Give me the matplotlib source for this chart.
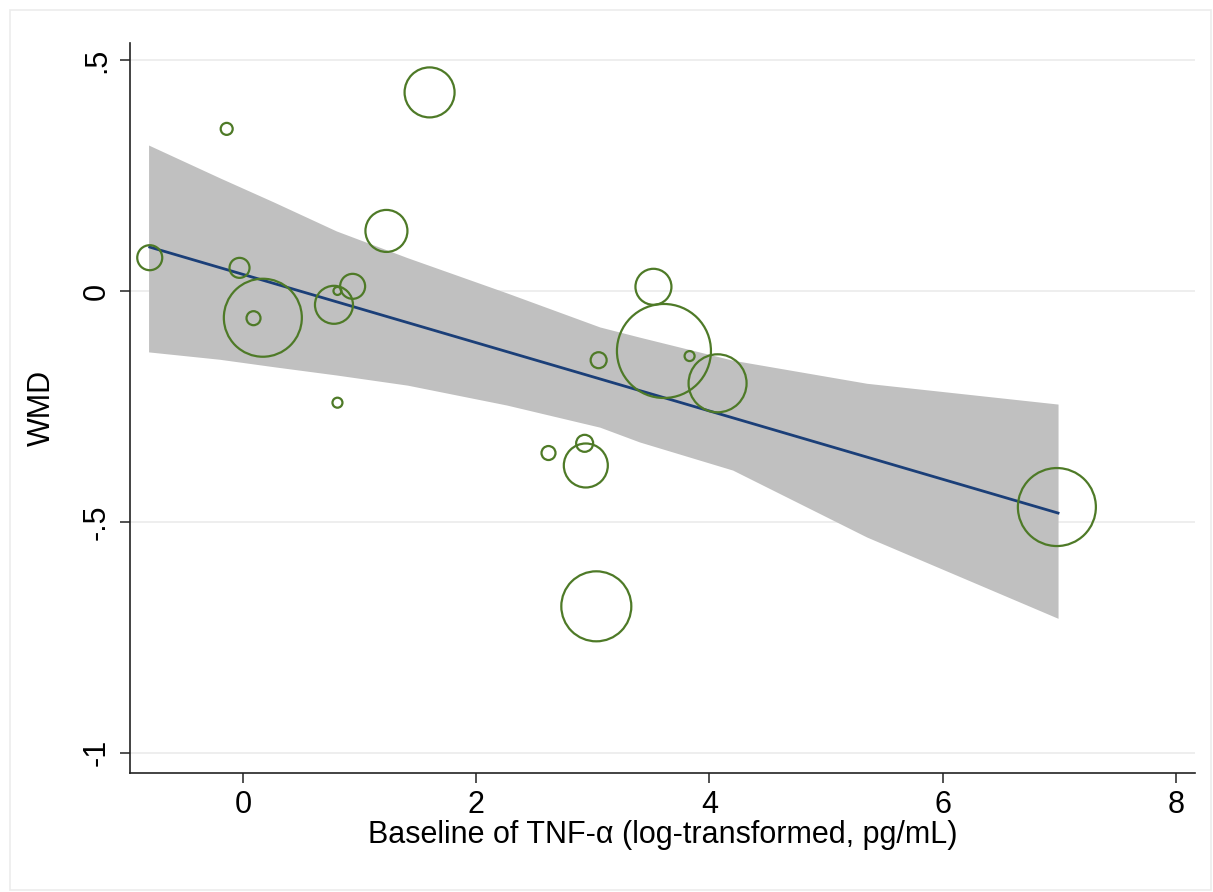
import matplotlib
matplotlib.use('Agg')
import matplotlib.pyplot as plt
from matplotlib.patches import Rectangle

plt.rcParams['font.family'] = ['Liberation Sans', 'DejaVu Sans']

# studies: baseline TNF-a (log) vs WMD, bubble radius in px (study weight)
tnf_x = [-0.80, -0.14, -0.03, 0.17, 0.09, 0.78, 0.81, 0.94, 1.23, 1.60, 0.81,
         2.62, 2.93, 2.94, 3.05, 3.52, 3.61, 3.83, 4.07, 3.03, 6.98]
wmd_y = [0.072, 0.351, 0.050, -0.058, -0.059, -0.030, 0.000, 0.010, 0.130, 0.430, -0.242,
         -0.351, -0.330, -0.378, -0.150, 0.009, -0.130, -0.141, -0.200, -0.683, -0.468]
bubble_r = [12.5, 6, 10, 39, 7, 19, 4, 12.5, 21, 25, 5,
            7, 8.5, 22, 8, 18, 47, 5, 29, 35, 39]

# fitted line and 95% CI band
fit_x = [-0.80, 6.99]
fit_y = [0.095, -0.481]
ci_x = [-0.81, -0.20, 0.26, 0.80, 1.41, 2.26, 3.06, 3.40, 4.20, 5.35, 6.99]
ci_hi = [0.316, 0.245, 0.193, 0.130, 0.072, -0.004, -0.078, -0.100, -0.150, -0.200, -0.245]
ci_lo = [-0.132, -0.148, -0.164, -0.182, -0.204, -0.247, -0.295, -0.327, -0.388, -0.533, -0.709]

xticks = [0, 2, 4, 6, 8]
yticks = [-1, -0.5, 0, 0.5]
ytick_labels = ['-1', '-.5', '0', '.5']

fig = plt.figure(figsize=(12.13, 8.92), dpi=100)
ax = fig.add_axes([0.1072, 0.1334, 0.878, 0.8184])

# faint outer frame like the Stata graph region
fig.patches.append(Rectangle((10 / 1213, 2 / 892), 1201 / 1213, 880 / 892,
                             transform=fig.transFigure, fill=False,
                             edgecolor='#ececec', linewidth=1.2))

for yt in yticks:
    ax.axhline(yt, color='#ebebeb', linewidth=1.2, zorder=0)

ax.fill_between(ci_x, ci_lo, ci_hi, color='#c0c0c0', linewidth=0, zorder=1)
ax.plot(fit_x, fit_y, color='#1b3f78', linewidth=2.0, zorder=2)

sizes = [(1.44 * r) ** 2 for r in bubble_r]
ax.scatter(tnf_x, wmd_y, s=sizes, facecolors='none', edgecolors='#4e7a27',
           linewidths=1.6, zorder=3)

ax.set_xlim(-0.969, 8.165)
ax.set_ylim(-1.044, 0.537)
ax.set_xticks(xticks)
ax.set_yticks(yticks)
ax.set_yticklabels(ytick_labels, rotation=90, va='center')

for s in ['top', 'right']:
    ax.spines[s].set_visible(False)
for s in ['left', 'bottom']:
    ax.spines[s].set_linewidth(1.2)
    ax.spines[s].set_color('#222222')

ax.tick_params(axis='both', direction='out', length=7, width=1.1,
               color='#222222', labelsize=22)
ax.tick_params(axis='x', pad=5)
ax.tick_params(axis='y', pad=6)

ax.set_xlabel('Baseline of TNF-α (log-transformed, pg/mL)', fontsize=22, labelpad=0)
ax.set_ylabel('WMD', fontsize=22, labelpad=18)

plt.savefig('out.png', dpi=100)
plt.close()
